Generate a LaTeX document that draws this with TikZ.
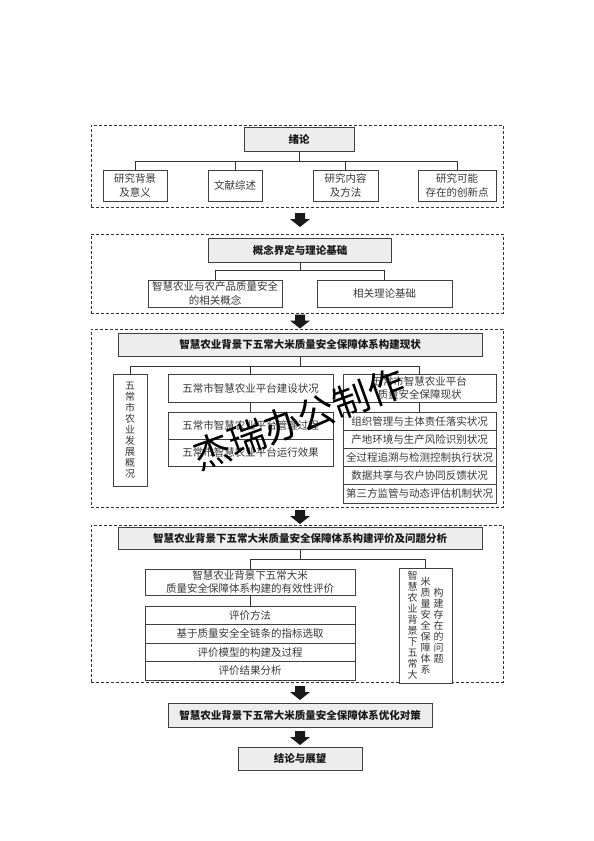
\documentclass[tikz,border=0pt]{standalone}
\usepackage{fontspec}
\newfontfamily\cjk{Noto Sans CJK SC}
\newcommand{\vcol}[1]{\parbox[c]{1em}{\centering #1}}
\begin{document}
\begin{tikzpicture}[x=1pt,y=-1pt,
  every node/.style={inner sep=0pt, outer sep=0pt},
  frame/.style={draw=black!80, line width=0.8pt, dash pattern=on 3pt off 2pt},
  head/.style={draw=black!75, fill=black!7, line width=0.8pt, font=\cjk\bfseries\fontsize{10.5}{13}\selectfont, text=black!90, align=center},
  plain/.style={draw=black!75, fill=white, line width=0.8pt, font=\cjk\fontsize{10.5}{13.5}\selectfont, text=black!78, align=center},
  vplain/.style={draw=black!75, fill=white, line width=0.8pt, font=\cjk\fontsize{10}{11}\selectfont, text=black!78},
  conn/.style={draw=black!80, line width=0.8pt},
  blockarrow/.pic={\fill[black!90] (-5,0) -- (5,0) -- (5,6) -- (10,6) -- (0,14) -- (-10,6) -- (-5,6) -- cycle;}
]
\useasboundingbox (0,0) rectangle (594,841);
\fill[white] (0,0) rectangle (594,841);

% frames
\node[frame, minimum width=412pt, minimum height=82pt] (f1) at (297,166) {};
\node[frame, minimum width=412pt, minimum height=79pt] (f2) at (297,273.5) {};
\node[frame, minimum width=412pt, minimum height=178pt] (f3) at (297,418) {};
\node[frame, minimum width=412pt, minimum height=157pt] (f4) at (297,603.5) {};

% section 1
\node[head, minimum width=110pt, minimum height=24pt] (lun) at (299,139.5) {绪论};
\node[plain, minimum width=64pt, minimum height=31pt] (a1) at (135,185.5) {研究背景\\及意义};
\node[plain, minimum width=54pt, minimum height=31pt] (a2) at (235,185.5) {文献综述};
\node[plain, minimum width=65pt, minimum height=31pt] (a3) at (345.5,185.5) {研究内容\\及方法};
\node[plain, minimum width=78pt, minimum height=31pt] (a4) at (457,185.5) {研究可能\\存在的创新点};
\coordinate (bus1) at (0,161);
\draw[conn] (lun.south) -- (lun.south |- bus1);
\draw[conn] (a1.north) -- (a1.north |- bus1) -- (a4.north |- bus1) -- (a4.north);
\draw[conn] (a2.north) -- (a2.north |- bus1);
\draw[conn] (a3.north) -- (a3.north |- bus1);

% section 2
\node[head, minimum width=183pt, minimum height=24pt] (gn) at (300,250) {概念界定与理论基础};
\node[plain, minimum width=134pt, minimum height=27pt] (b1) at (215,293.5) {智慧农业与农产品质量安全\\的相关概念};
\node[plain, minimum width=135pt, minimum height=27pt] (b2) at (384.5,293.5) {相关理论基础};
\coordinate (bus2) at (0,270);
\draw[conn] (gn.south) -- (gn.south |- bus2);
\draw[conn] (b1.north) -- (b1.north |- bus2) -- (b2.north |- bus2) -- (b2.north);

% section 3
\node[head, minimum width=364pt, minimum height=23pt] (h3) at (300,344.5) {智慧农业背景下五常大米质量安全保障体系构建现状};
\node[vplain, minimum width=34pt, minimum height=112pt, align=center] (c1) at (130,430) {五\\常\\市\\农\\业\\发\\展\\概\\况};
\node[plain, minimum width=165pt, minimum height=28pt] (c2) at (250.5,388) {五常市智慧农业平台建设状况};
\node[plain, minimum width=165pt, minimum height=27pt] (c3) at (250.5,425.5) {五常市智慧农业平台管理过程};
\node[plain, minimum width=165pt, minimum height=27pt] (c4) at (250.5,452.5) {五常市智慧农业平台运行效果};
\node[plain, minimum width=153pt, minimum height=28pt] (d1) at (419.5,388) {五常市智慧农业平台\\质量安全保障现状};
\node[plain, minimum width=153pt, minimum height=18.2pt] (d2) at (419.5,421.1) {组织管理与主体责任落实状况};
\node[plain, minimum width=153pt, minimum height=18.2pt] (d3) at (419.5,439.3) {产地环境与生产风险识别状况};
\node[plain, minimum width=153pt, minimum height=18.2pt] (d4) at (419.5,457.5) {全过程追溯与检测控制执行状况};
\node[plain, minimum width=153pt, minimum height=18.2pt] (d5) at (419.5,475.7) {数据共享与农户协同反馈状况};
\node[plain, minimum width=153pt, minimum height=18.2pt] (d6) at (419.5,493.9) {第三方监管与动态评估机制状况};
\coordinate (bus3) at (0,366);
\draw[conn] (h3.south) -- (h3.south |- bus3);
\draw[conn] (c1.north) -- (c1.north |- bus3) -- (d1.north |- bus3) -- (d1.north);
\draw[conn] (c2.north) -- (c2.north |- bus3);
\draw[conn] (c2.south) -- (c3.north);
\draw[conn] (d1.south) -- (d2.north);

% section 4
\node[head, minimum width=364pt, minimum height=22pt] (h4) at (300,538.5) {智慧农业背景下五常大米质量安全保障体系构建评价及问题分析};
\node[plain, minimum width=210pt, minimum height=26pt] (e1) at (250,582) {智慧农业背景下五常大米\\质量安全保障体系构建的有效性评价};
\node[plain, minimum width=210pt, minimum height=18.5pt] (e2) at (250,615.25) {评价方法};
\node[plain, minimum width=210pt, minimum height=18.5pt] (e3) at (250,633.75) {基于质量安全全链条的指标选取};
\node[plain, minimum width=210pt, minimum height=18.5pt] (e4) at (250,652.25) {评价模型的构建及过程};
\node[plain, minimum width=210pt, minimum height=18.5pt] (e5) at (250,670.75) {评价结果分析};
\node[vplain, minimum width=53pt, minimum height=115pt] (g1) at (425.5,625.5) {\vcol{智\\慧\\农\\业\\背\\景\\下\\五\\常\\大}\hspace{3pt}\vcol{米\\质\\量\\安\\全\\保\\障\\体\\系}\hspace{3pt}\vcol{构\\建\\存\\在\\的\\问\\题}};
\coordinate (bus4) at (0,559);
\draw[conn] (h4.south) -- (h4.south |- bus4);
\draw[conn] (e1.north) -- (e1.north |- bus4) -- (g1.north |- bus4) -- (g1.north);
\draw[conn] (e1.south) -- (e2.north);

% bottom
\node[head, minimum width=264pt, minimum height=24pt] (p) at (300,715) {智慧农业背景下五常大米质量安全保障体系优化对策};
\node[head, minimum width=124pt, minimum height=23pt] (q) at (300,758.5) {结论与展望};

% block arrows
\pic at (300,213) {blockarrow};
\pic at (300,314.5) {blockarrow};
\pic at (300,510) {blockarrow};
\pic at (300,686) {blockarrow};
\pic at (300,731) {blockarrow};

% watermark
\node[font=\cjk\fontsize{37}{37}\selectfont, rotate=20, text=black] (wm) at (299,419) {杰瑞办公制作};
\end{tikzpicture}
\end{document}
